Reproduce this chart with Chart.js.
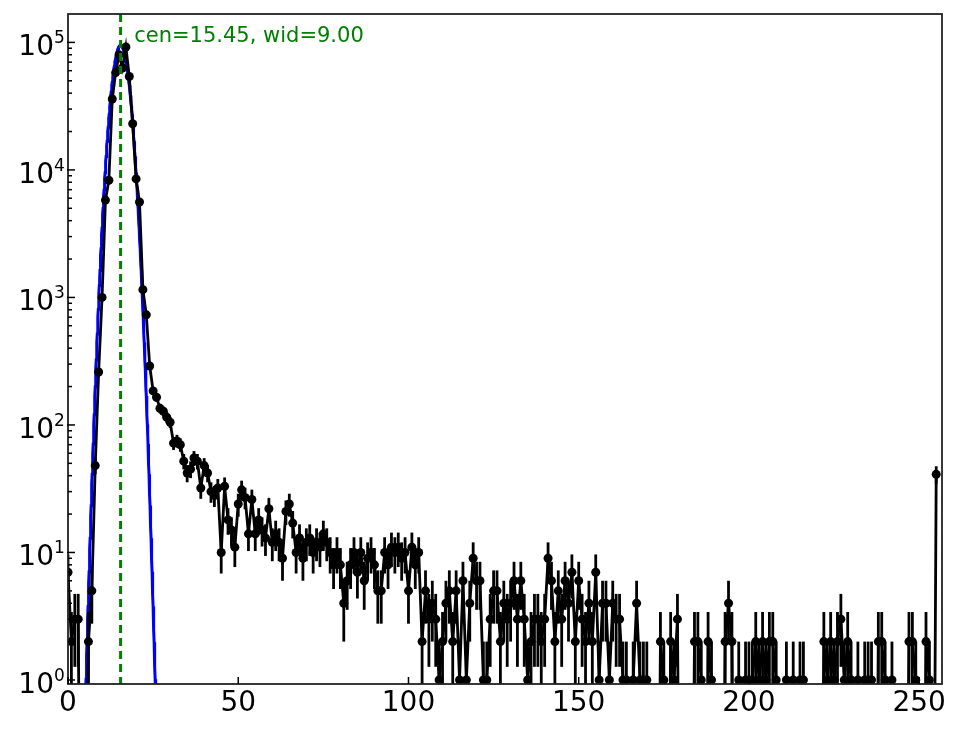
<!DOCTYPE html>
<html>
<head>
<meta charset="utf-8">
<script src="https://cdn.jsdelivr.net/npm/chart.js@4.4.1/dist/chart.umd.min.js"></script>
<style>
  html, body { margin: 0; padding: 0; background: #fff; }
</style>
</head>
<body>
<canvas id="histChart" width="964" height="729"></canvas>
<script>
// counts per bin (bins 0..255)
const counts = [
  7, 2, 3, 3, 0, 0, 2, 5, 48, 260,
  1000, 5800, 8300, 36000, 58000, 80000, 63000, 92000, 54000, 23000,
  8500, 5600, 1150, 730, 290, 185, 165, 135, 128, 115,
  105, 72, 75, 70, 52, 42, 45, 55, 52, 32,
  48, 42, 30, 28, 32, 10, 33, 18, 15, 11,
  24, 31, 27, 14, 26, 14, 18, 15, 13, 22,
  12, 14, 12, 9, 21, 24, 17, 10, 13, 9,
  12, 13, 10, 12, 11, 14, 12, 10, 8, 10,
  8, 4, 6, 8, 10, 7, 10, 6, 9, 10,
  8, 5, 5, 10, 8, 11, 10, 11, 9, 10,
  5, 11, 8, 10, 2, 5, 3, 4, 3, 1,
  2, 4, 5, 2, 5, 1, 6, 1, 4, 9,
  6, 6, 1, 1, 3, 5, 5, 2, 4, 3,
  4, 6, 3, 6, 3, 1, 2, 3, 3, 2,
  3, 9, 6, 2, 5, 3, 6, 4, 7, 2,
  6, 3, 2, 4, 2, 7, 1, 4, 4, 1,
  4, 3, 3, 1, 1, 0, 1, 4, 1, 1,
  1, 0, 0, 0, 2, 1, 0, 2, 1, 3,
  0, 0, 0, 0, 2, 2, 1, 0, 2, 1,
  0, 0, 0, 2, 4, 2, 0, 1, 0, 1,
  1, 1, 2, 1, 2, 1, 2, 2, 1, 0,
  0, 1, 0, 1, 0, 1, 1, 0, 0, 0,
  0, 0, 2, 1, 2, 1, 2, 3, 1, 2,
  1, 0, 1, 0, 1, 1, 1, 0, 2, 2,
  1, 0, 1, 0, 0, 0, 0, 2, 2, 1,
  0, 0, 2, 1, 0, 41
];
const bins = counts.map((_, i) => i);

// gaussian fit parameters (from the annotation)
const fitAmp = 95000;
const fitCen = 15.45;
const fitWid = 9.00;

const xTicks = [0, 50, 100, 150, 200, 250];
const yTicks = [1, 10, 100, 1000, 10000, 100000];
const yTickExp = ['0', '1', '2', '3', '4', '5'];

// empty bins sit far below the axis on a log plot (like log(0) -> -inf), so lines drop off the bottom
const FLOOR = 1e-3;
const dataPts = bins.map((b, i) => ({ x: b, y: counts[i] > 0 ? counts[i] : FLOOR }));
const fitPts = [];
for (let k = 0; k <= 350; k++) {
  const x = k / 10;
  const y = fitAmp * Math.exp(-Math.pow(x - fitCen, 2) / fitWid);
  if (y > 1e-3) fitPts.push({ x: x, y: y });
}

const FONT = '"DejaVu Sans", sans-serif';

const decor = {
  id: 'decor',
  beforeDatasetDraw(chart, args) {
    if (args.index !== 0) return;
    // error bars sqrt(N)
    const { ctx, chartArea: a, scales: { x, y } } = chart;
    ctx.save();
    ctx.beginPath();
    ctx.rect(a.left, a.top, a.right - a.left, a.bottom - a.top);
    ctx.clip();
    ctx.strokeStyle = '#000';
    ctx.lineWidth = 2.8;
    counts.forEach((n, i) => {
      if (n <= 0) return;
      const e = Math.sqrt(n);
      const px = x.getPixelForValue(bins[i]);
      const top = y.getPixelForValue(n + e);
      const lo = n - e;
      let bot = lo > 0 ? y.getPixelForValue(lo) : a.bottom + 5;
      bot = Math.min(bot, a.bottom + 5);
      ctx.beginPath();
      ctx.moveTo(px, top);
      ctx.lineTo(px, bot);
      ctx.stroke();
    });
    ctx.restore();
  },
  afterDatasetsDraw(chart) {
    const { ctx, chartArea: a, scales: { x, y } } = chart;
    ctx.save();

    // centre line
    const cx = x.getPixelForValue(fitCen);
    ctx.strokeStyle = '#008000';
    ctx.lineWidth = 3;
    ctx.setLineDash([8, 5]);
    ctx.beginPath();
    ctx.moveTo(cx, a.top);
    ctx.lineTo(cx, a.bottom);
    ctx.stroke();
    ctx.setLineDash([]);

    // annotation
    ctx.fillStyle = '#008000';
    ctx.font = '21px ' + FONT;
    ctx.textAlign = 'left';
    ctx.textBaseline = 'alphabetic';
    ctx.fillText('cen=' + fitCen.toFixed(2) + ', wid=' + fitWid.toFixed(2),
      x.getPixelForValue(fitCen + 4), y.getPixelForValue(100000));

    // frame
    ctx.strokeStyle = '#222';
    ctx.lineWidth = 1.8;
    ctx.strokeRect(a.left, a.top, a.right - a.left, a.bottom - a.top);

    // ticks (pointing inward)
    ctx.lineWidth = 1.5;
    ctx.strokeStyle = '#000';
    xTicks.forEach(t => {
      const px = x.getPixelForValue(t);
      ctx.beginPath();
      ctx.moveTo(px, a.bottom);
      ctx.lineTo(px, a.bottom - 7);
      ctx.stroke();
    });
    yTicks.forEach(t => {
      const py = y.getPixelForValue(t);
      ctx.beginPath();
      ctx.moveTo(a.left - 1, py);
      ctx.lineTo(a.left + 7, py);
      ctx.stroke();
      for (let m = 2; m <= 9; m++) {
        const v = t * m;
        if (v > y.max) break;
        const pm = y.getPixelForValue(v);
        ctx.beginPath();
        ctx.moveTo(a.left, pm);
        ctx.lineTo(a.left + 4, pm);
        ctx.stroke();
      }
    });

    // tick labels
    ctx.fillStyle = '#000';
    ctx.font = '28px ' + FONT;
    ctx.textAlign = 'center';
    ctx.textBaseline = 'alphabetic';
    xTicks.forEach(t => {
      ctx.fillText(String(t), x.getPixelForValue(t), a.bottom + 27);
    });
    yTicks.forEach((t, i) => {
      const py = y.getPixelForValue(t);
      ctx.font = '28px ' + FONT;
      ctx.textAlign = 'right';
      ctx.fillText('10', 54, py + 13);
      ctx.font = '17px ' + FONT;
      ctx.textAlign = 'left';
      ctx.fillText(yTickExp[i], 54, py + 1);
    });

    ctx.restore();
  }
};

const ctx = document.getElementById('histChart').getContext('2d');

const histChart = new Chart(ctx, {
  type: 'line',
  data: {
    datasets: [
      {
        label: 'counts',
        data: dataPts,
        borderColor: '#000',
        backgroundColor: '#000',
        borderWidth: 2.8,
        pointRadius: c => (counts[c.dataIndex] > 0 ? 4.5 : 0),
        pointBorderWidth: 0,
        pointBackgroundColor: '#000',
        tension: 0,
        order: 0
      },
      {
        label: 'fit',
        data: fitPts,
        borderColor: '#0000ff',
        borderWidth: 3,
        pointRadius: 0,
        tension: 0,
        order: 1
      }
    ]
  },
  plugins: [decor],
  options: {
    responsive: false,
    animation: false,
    devicePixelRatio: 1,
    layout: { padding: { left: 0, right: 22, top: 14, bottom: 0 } },
    scales: {
      x: {
        type: 'linear',
        min: 0,
        max: 256.7,
        bounds: 'data',
        grid: { display: false },
        border: { display: false },
        ticks: { display: false },
        afterFit: s => { s.height = 45; }
      },
      y: {
        type: 'logarithmic',
        min: 0.93,
        max: 167000,
        bounds: 'data',
        grid: { display: false },
        border: { display: false },
        ticks: { display: false },
        afterFit: s => { s.width = 68; }
      }
    },
    plugins: {
      legend: { display: false },
      tooltip: { enabled: false }
    }
  }
});
</script>
</body>
</html>
